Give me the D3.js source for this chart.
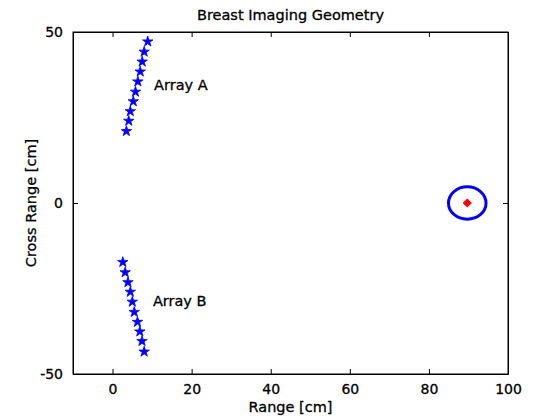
<!DOCTYPE html>
<html>
<head>
<meta charset="utf-8">
<script src="https://cdn.jsdelivr.net/npm/d3@7"></script>
<style>
    body { margin: 0; background: #fff; }
    text { font-family: "DejaVu Sans", sans-serif; fill: #000; stroke: #000; stroke-width: 0.3px; }
</style>
</head>
<body>
<div id="chart"></div>
<script>
// Array A element positions [cm]
var arrayA_x = [8.9, 8.0, 7.5, 7.0, 6.4, 5.8, 5.25, 4.5, 4.1, 3.5];
var arrayA_y = [47.2, 44.2, 41.3, 38.4, 35.5, 32.5, 29.7, 26.8, 24.0, 21.0];
// Array B element positions [cm]
var arrayB_x = [2.6, 3.2, 3.9, 4.5, 5.0, 5.5, 6.3, 6.9, 7.45, 8.0];
var arrayB_y = [-17.3, -20.3, -23.2, -26.0, -28.9, -31.9, -34.8, -37.6, -40.4, -43.5];
// breast outline and target
var breast_center = [89.7, 0];
var breast_radius = [4.75];
var target = [[89.7, 0]];
// annotations
var labels = ['Array A', 'Array B'];
var label_x = [10.5, 10.2];
var label_y = [34.5, -28.7];
// axes
var x_domain = [-10, 100];
var y_domain = [-50, 50];
var x_ticks = [0, 20, 40, 60, 80, 100];
var y_ticks = [-50, 0, 50];

var width = 560;
var height = 420;
var padding = {top: 32, right: 52, bottom: 46, left: 73};
var w = width - padding.left - padding.right;
var h = height - padding.top - padding.bottom;

var xScale = d3.scaleLinear().domain(x_domain).range([0, w]);
var yScale = d3.scaleLinear().domain(y_domain).range([h, 0]);

var svg = d3.select('#chart')
    .append('svg')
    .attr('width', width)
    .attr('height', height);

var g = svg.append('g')
    .attr('transform', 'translate(' + padding.left + ',' + padding.top + ')');

// plain hyphen for negatives, like matlab
var fmt = function (d) { return String(d); };

// axes, ticks pointing inwards
g.append('g')
    .attr('class', 'axis')
    .attr('transform', 'translate(0,' + h + ')')
    .call(d3.axisBottom(xScale).tickValues(x_ticks).tickFormat(fmt).tickSizeInner(-5).tickSizeOuter(0).tickPadding(10));
g.append('g')
    .attr('class', 'axis')
    .call(d3.axisTop(xScale).tickValues(x_ticks).tickSizeInner(-5).tickSizeOuter(0).tickFormat(''));
g.append('g')
    .attr('class', 'axis')
    .call(d3.axisLeft(yScale).tickValues(y_ticks).tickFormat(fmt).tickSizeInner(-5).tickSizeOuter(0).tickPadding(10));
g.append('g')
    .attr('class', 'axis')
    .attr('transform', 'translate(' + w + ',0)')
    .call(d3.axisRight(yScale).tickValues(y_ticks).tickSizeInner(-5).tickSizeOuter(0).tickFormat(''));

g.selectAll('.axis text')
    .style('font-size', '14px')
    .style('font-family', '"DejaVu Sans", sans-serif');
g.selectAll('.axis line').attr('stroke', '#000');
g.selectAll('.axis path').attr('stroke', '#000');

// box
g.append('rect')
    .attr('width', w)
    .attr('height', h)
    .attr('fill', 'none')
    .attr('stroke', '#000')
    .attr('stroke-width', 1);

// breast outline
g.append('ellipse')
    .attr('cx', xScale(breast_center[0]))
    .attr('cy', yScale(breast_center[1]))
    .attr('rx', xScale(breast_center[0] + breast_radius[0]) - xScale(breast_center[0]))
    .attr('ry', yScale(breast_center[1]) - yScale(breast_center[1] + breast_radius[0]))
    .attr('fill', 'none')
    .attr('stroke', '#0000ff')
    .attr('stroke-width', 3);

// target
g.selectAll('.target')
    .data(target)
    .enter()
    .append('path')
    .attr('class', 'target')
    .attr('d', d3.symbol().type(d3.symbolSquare).size(42))
    .attr('transform', function (d) {
        return 'translate(' + xScale(d[0]) + ',' + yScale(d[1]) + ') rotate(45)';
    })
    .attr('fill', '#ff0000');

// array elements
var elements = [];
for (var i = 0; i < arrayA_x.length; i++) {
    elements.push([arrayA_x[i], arrayA_y[i]]);
}
for (var j = 0; j < arrayB_x.length; j++) {
    elements.push([arrayB_x[j], arrayB_y[j]]);
}
g.selectAll('.elem')
    .data(elements)
    .enter()
    .append('path')
    .attr('class', 'elem')
    .attr('d', d3.symbol().type(d3.symbolStar).size(34))
    .attr('transform', function (d) {
        return 'translate(' + xScale(d[0]) + ',' + yScale(d[1]) + ')';
    })
    .attr('fill', '#0000ff')
    .attr('stroke', '#0000ff')
    .attr('stroke-width', 0.8);

g.selectAll('.lbl')
    .data(labels)
    .enter()
    .append('text')
    .attr('class', 'lbl')
    .attr('x', function (d, i) { return xScale(label_x[i]); })
    .attr('y', function (d, i) { return yScale(label_y[i]); })
    .attr('dy', '0.35em')
    .style('font-size', '14.5px')
    .text(function (d) { return d; });

// titles
svg.append('text')
    .attr('x', padding.left + w / 2)
    .attr('y', 20)
    .attr('text-anchor', 'middle')
    .style('font-size', '14.5px')
    .text('Breast Imaging Geometry');
svg.append('text')
    .attr('x', padding.left + w / 2)
    .attr('y', 412)
    .attr('text-anchor', 'middle')
    .style('font-size', '14.5px')
    .text('Range [cm]');
svg.append('text')
    .attr('transform', 'translate(36,' + (padding.top + h / 2) + ') rotate(-90)')
    .attr('text-anchor', 'middle')
    .style('font-size', '14.5px')
    .text('Cross Range [cm]');
</script>
</body>
</html>
